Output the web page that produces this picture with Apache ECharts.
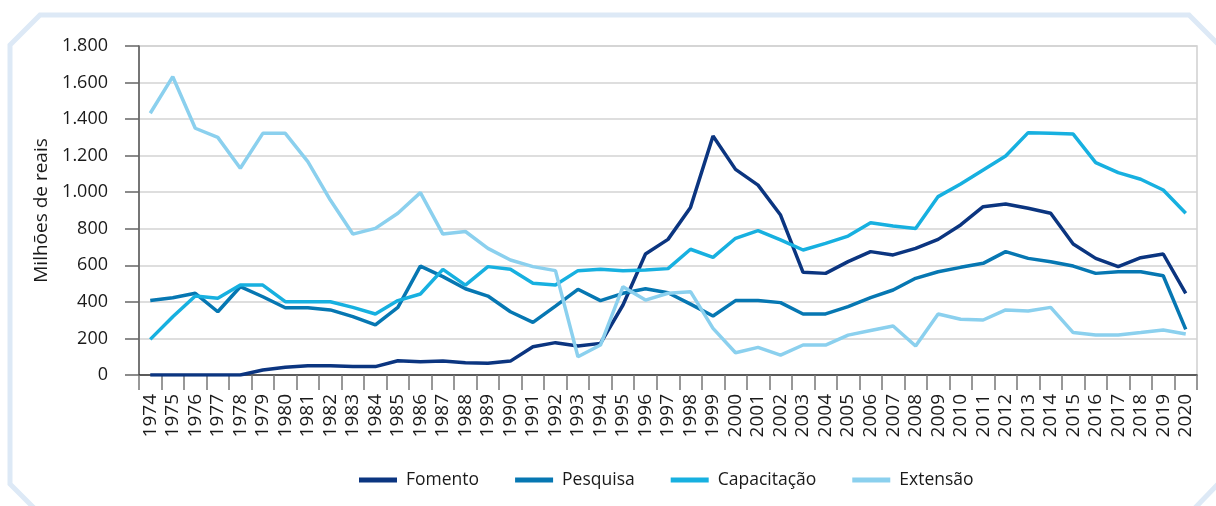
<!DOCTYPE html>
<html>
<head>
<meta charset="utf-8">
<script src="https://cdn.jsdelivr.net/npm/echarts@6/dist/echarts.min.js"></script>
<style>
  html, body { margin: 0; padding: 0; background: #fff; }
  #chart { width: 1216px; height: 506px; }
</style>
</head>
<body>
<div id="chart"></div>
<script>
// anos de 1974 a 2020
const anos = ['1974', '1975', '1976', '1977', '1978', '1979', '1980', '1981', '1982', '1983',
  '1984', '1985', '1986', '1987', '1988', '1989', '1990', '1991', '1992', '1993',
  '1994', '1995', '1996', '1997', '1998', '1999', '2000', '2001', '2002', '2003',
  '2004', '2005', '2006', '2007', '2008', '2009', '2010', '2011', '2012', '2013',
  '2014', '2015', '2016', '2017', '2018', '2019', '2020']

// valores em milhões de reais
const fomento = [0, 0, 0, 0, 0, 27, 42, 51, 51, 46,
  46, 78, 73, 76, 67, 64, 76, 155, 177, 159,
  173, 383, 662, 742, 917, 1308, 1125, 1039, 875, 562,
  556, 620, 675, 657, 693, 742, 821, 921, 936, 912,
  885, 717, 638, 593, 642, 662, 447]
const pesquisa = [407, 423, 447, 346, 483, 428, 368, 368, 356, 319,
  274, 370, 596, 538, 472, 432, 346, 288, 377, 469,
  407, 447, 472, 450, 388, 323, 407, 407, 396, 334,
  334, 374, 423, 465, 529, 565, 589, 611, 675, 638,
  620, 596, 556, 565, 565, 543, 250]
const capacitacao = [195, 319, 432, 420, 492, 492, 401, 401, 401, 370,
  334, 407, 443, 578, 492, 593, 578, 502, 492, 571,
  578, 571, 575, 582, 688, 644, 748, 790, 739, 684,
  720, 760, 833, 815, 802, 976, 1045, 1122, 1198, 1326,
  1322, 1318, 1162, 1107, 1071, 1012, 885]
const extensao = [1432, 1632, 1350, 1300, 1131, 1322, 1322, 1167, 957, 771,
  802, 885, 998, 771, 785, 693, 629, 593, 571, 100,
  164, 483, 410, 447, 456, 255, 122, 151, 109, 164,
  164, 218, 243, 268, 159, 334, 305, 301, 356, 350,
  370, 232, 219, 219, 232, 246, 224]

const yTicks = ['0', '200', '400', '600', '800', '1.000', '1.200', '1.400', '1.600', '1.800']

const nomes = ['Fomento', 'Pesquisa', 'Capacitação', 'Extensão']
const cores = ['#0b3580', '#0677b2', '#17b0e0', '#8bd0ee']
const valores = [fomento, pesquisa, capacitacao, extensao]

const fonte = '"Open Sans", "Noto Sans", sans-serif'
const chart = echarts.init(document.getElementById('chart'))

const option = {
  animation: false,
  textStyle: { fontFamily: fonte },
  // moldura azul clara com cantos chanfrados
  graphic: [
    {
      type: 'polyline',
      silent: true,
      shape: { points: [[36, 510], [10, 484], [10, 45], [40, 15], [1189, 15], [1220, 46]] },
      style: { stroke: '#dde9f6', lineWidth: 5, fill: null }
    },
    {
      type: 'polyline',
      silent: true,
      shape: { points: [[1193, 510], [1220, 482]] },
      style: { stroke: '#dde9f6', lineWidth: 5, fill: null }
    }
  ],
  grid: {
    left: 139,
    right: 19,
    top: 46,
    bottom: 131,
    show: true,
    borderColor: '#cfcfcf',
    borderWidth: 1.5
  },
  legend: {
    data: nomes,
    left: 354,
    top: 466,
    itemWidth: 38,
    itemHeight: 5,
    itemGap: 36,
    icon: 'rect',
    textStyle: {
      color: '#1a1a1a',
      fontSize: 17.5,
      fontFamily: fonte,
      padding: [0, 0, 0, 4]
    }
  },
  xAxis: {
    type: 'category',
    data: anos,
    boundaryGap: true,
    axisLine: { lineStyle: { color: '#333', width: 1.5 } },
    axisTick: { show: true, length: 15, lineStyle: { color: '#777', width: 1.5 } },
    axisLabel: {
      interval: 0,
      rotate: 90,
      margin: 19,
      color: '#1a1a1a',
      fontSize: 19,
      fontFamily: fonte
    },
    splitLine: { show: false }
  },
  yAxis: {
    type: 'value',
    min: 0,
    max: 1800,
    interval: 200,
    name: 'Milhões de reais',
    nameLocation: 'middle',
    nameGap: 88,
    nameTextStyle: { color: '#1a1a1a', fontSize: 19, fontFamily: fonte },
    axisLine: { show: true, lineStyle: { color: '#555', width: 1.5 } },
    axisTick: { show: true, inside: false, length: 14, lineStyle: { color: '#666', width: 1.5 } },
    axisLabel: {
      margin: 31,
      color: '#1a1a1a',
      fontSize: 18,
      fontFamily: fonte,
      formatter: (v) => yTicks[Math.round(v / 200)]
    },
    splitLine: { lineStyle: { color: '#d3d3d3', width: 1.5 } }
  },
  series: nomes.map((nome, i) => ({
    name: nome,
    type: 'line',
    data: valores[i],
    symbol: 'none',
    color: cores[i],
    lineStyle: { width: 3.5, color: cores[i] }
  }))
}

chart.setOption(option)
</script>
</body>
</html>
